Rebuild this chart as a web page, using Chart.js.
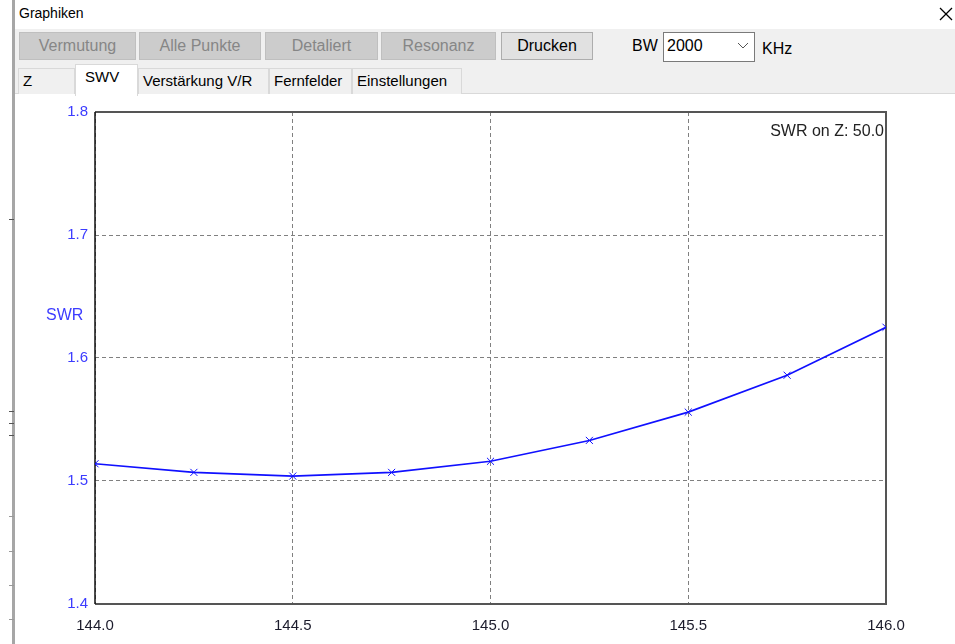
<!DOCTYPE html>
<html>
<head>
<meta charset="utf-8">
<script src="https://cdn.jsdelivr.net/npm/chart.js@4/dist/chart.umd.min.js"></script>
<style>
  html, body { margin: 0; padding: 0; }
  body { width: 955px; height: 644px; position: relative; overflow: hidden; background: #fff;
         font-family: "Liberation Sans", Arial, sans-serif; }
  .abs { position: absolute; }
  #sidebar { left: 12px; top: 0; width: 3px; height: 644px; background: #a6a6a6; }
  .mark { position: absolute; left: 9px; width: 5px; height: 1px; background: #555; }
  #title { left: 19px; top: 5px; font-size: 14px; color: #000; }
  #toolbar { left: 15px; top: 29px; width: 940px; height: 64px; background: #f0f0f0; }
  #panelLine { left: 15px; top: 93px; width: 940px; height: 1px; background: #d9d9d9; }
  .btn { position: absolute; top: 32px; height: 28px; box-sizing: border-box; border: 1px solid #bfbfbf;
         background: #cccccc; color: #868686; font-size: 16px; text-align: center; line-height: 26px; }
  .btn.on { background: #e1e1e1; border-color: #adadad; color: #000; }
  .lbl { position: absolute; font-size: 16px; color: #000; }
  #combo { left: 663px; top: 32px; width: 92px; height: 30px; box-sizing: border-box; border: 1px solid #7a7a7a;
           background: #fff; font-size: 16px; line-height: 26px; padding-left: 3px; }
  .tab { position: absolute; top: 68px; height: 26px; box-sizing: border-box; border: 1px solid #d9d9d9;
         border-bottom: none; background: #f0f0f0; font-size: 15px; line-height: 24px; color: #000; padding-left: 4px; }
  .tab.sel { top: 64px; height: 32px; background: #fff; border-color: #d9d9d9; line-height: 24px; z-index: 2; padding-left: 9px; }
  #chartBox { left: 0; top: 96px; width: 955px; height: 548px; }
</style>
</head>
<body>
<div id="sidebar" class="abs"></div>
<div class="mark" style="top:219px"></div>
<div class="mark" style="top:411px"></div>
<div class="mark" style="top:423px"></div>
<div class="mark" style="top:435px"></div>
<div class="mark" style="top:516px;background:#999"></div>
<div class="mark" style="top:551px;background:#999"></div>
<div class="mark" style="top:585px;background:#999"></div>
<div class="mark" style="top:619px;background:#999"></div>

<div id="title" class="abs">Graphiken</div>
<svg class="abs" style="left:938px;top:6px" width="16" height="16">
  <line x1="2" y1="2" x2="14" y2="14" stroke="#000" stroke-width="1.2"/>
  <line x1="14" y1="2" x2="2" y2="14" stroke="#000" stroke-width="1.2"/>
</svg>

<div id="toolbar" class="abs"></div>
<div id="panelLine" class="abs"></div>

<div class="btn" style="left:19px;width:117px">Vermutung</div>
<div class="btn" style="left:139px;width:122px">Alle Punkte</div>
<div class="btn" style="left:265px;width:113px">Detaliert</div>
<div class="btn" style="left:381px;width:115px">Resonanz</div>
<div class="btn on" style="left:501px;width:92px">Drucken</div>

<div class="lbl" style="left:632px;top:37px">BW</div>
<div id="combo" class="abs">2000</div>
<svg class="abs" style="left:737px;top:42px" width="12" height="8">
  <polyline points="1,1 6,6 11,1" fill="none" stroke="#555" stroke-width="1"/>
</svg>
<div class="lbl" style="left:762px;top:40px">KHz</div>

<div class="tab" style="left:18px;width:57px">Z</div>
<div class="tab sel" style="left:75px;width:63px">SWV</div>
<div class="tab" style="left:138px;width:131px">Verstärkung V/R</div>
<div class="tab" style="left:269px;width:83px">Fernfelder</div>
<div class="tab" style="left:352px;width:110px">Einstellungen</div>

<div id="chartBox" class="abs"><canvas id="c" width="955" height="548"></canvas></div>

<script>
// Frequency sweep (MHz) and the standing wave ratio computed at each step
const freqs = [144.0, 144.25, 144.5, 144.75, 145.0, 145.25, 145.5, 145.75, 146.0];
const swr   = [1.514, 1.507, 1.504, 1.507, 1.516, 1.533, 1.556, 1.586, 1.625];

// Axis ranges and tick spacing
const xRange = [144.0, 146.0];
const xStep  = 0.5;
const yRange = [1.4, 1.8];
const yStep  = 0.1;

const yTitle   = 'SWR';
const refLabel = 'SWR on Z: 50.0';

const FONT = '"Liberation Sans", Arial, sans-serif';
const BLUE = '#3c3cff';

// Plot frame and free-standing captions
const framePlugin = {
  id: 'frame',
  beforeDatasetsDraw(chart) {
    const { ctx, chartArea: a } = chart;
    ctx.save();
    ctx.strokeStyle = '#555';
    ctx.lineWidth = 2;
    ctx.beginPath();
    ctx.moveTo(a.left, a.top);
    ctx.lineTo(a.right, a.top);
    ctx.lineTo(a.right, a.bottom);
    ctx.lineTo(a.left, a.bottom);
    ctx.stroke();
    ctx.strokeStyle = '#111';
    ctx.lineWidth = 1.5;
    ctx.beginPath();
    ctx.moveTo(a.left, a.top);
    ctx.lineTo(a.left, a.bottom);
    ctx.stroke();
    ctx.restore();
  },
  afterDraw(chart) {
    const { ctx, chartArea: a } = chart;
    ctx.save();
    ctx.font = '16px ' + FONT;
    ctx.textBaseline = 'middle';
    ctx.fillStyle = '#222';
    ctx.textAlign = 'right';
    ctx.fillText(refLabel, a.right - 2, a.top + 20);
    ctx.fillStyle = BLUE;
    ctx.textAlign = 'left';
    ctx.fillText(yTitle, 46, 220);
    ctx.restore();
  }
};

new Chart(document.getElementById('c'), {
  type: 'line',
  data: {
    datasets: [{
      data: freqs.map((f, i) => ({ x: f, y: swr[i] })),
      borderColor: '#1010ff',
      borderWidth: 1.6,
      pointStyle: 'crossRot',
      pointRadius: 5,
      pointBorderWidth: 1,
      pointBorderColor: '#1010ff',
      tension: 0,
      fill: false
    }]
  },
  options: {
    responsive: false,
    animation: false,
    devicePixelRatio: 1,
    layout: { padding: { top: 14, right: 69, left: 0, bottom: 0 } },
    plugins: { legend: { display: false }, tooltip: { enabled: false } },
    scales: {
      x: {
        type: 'linear',
        min: xRange[0], max: xRange[1],
        afterFit(s) { s.height = 40; },
        ticks: {
          stepSize: xStep,
          callback: v => Number(v).toFixed(1),
          font: { size: 15, family: FONT },
          color: '#1c1c2c',
          padding: 13,
          maxRotation: 0
        },
        grid: { color: '#808080', lineWidth: 1, drawTicks: false },
        border: { display: false, dash: [4, 3] }
      },
      y: {
        min: yRange[0], max: yRange[1],
        afterFit(s) { s.width = 95; },
        ticks: {
          stepSize: yStep,
          callback: v => Number(v).toFixed(1),
          font: { size: 15, family: FONT },
          color: BLUE,
          padding: 7
        },
        grid: { color: '#808080', lineWidth: 1, drawTicks: false },
        border: { display: false, dash: [4, 3] }
      }
    }
  },
  plugins: [framePlugin]
});
</script>
</body>
</html>
